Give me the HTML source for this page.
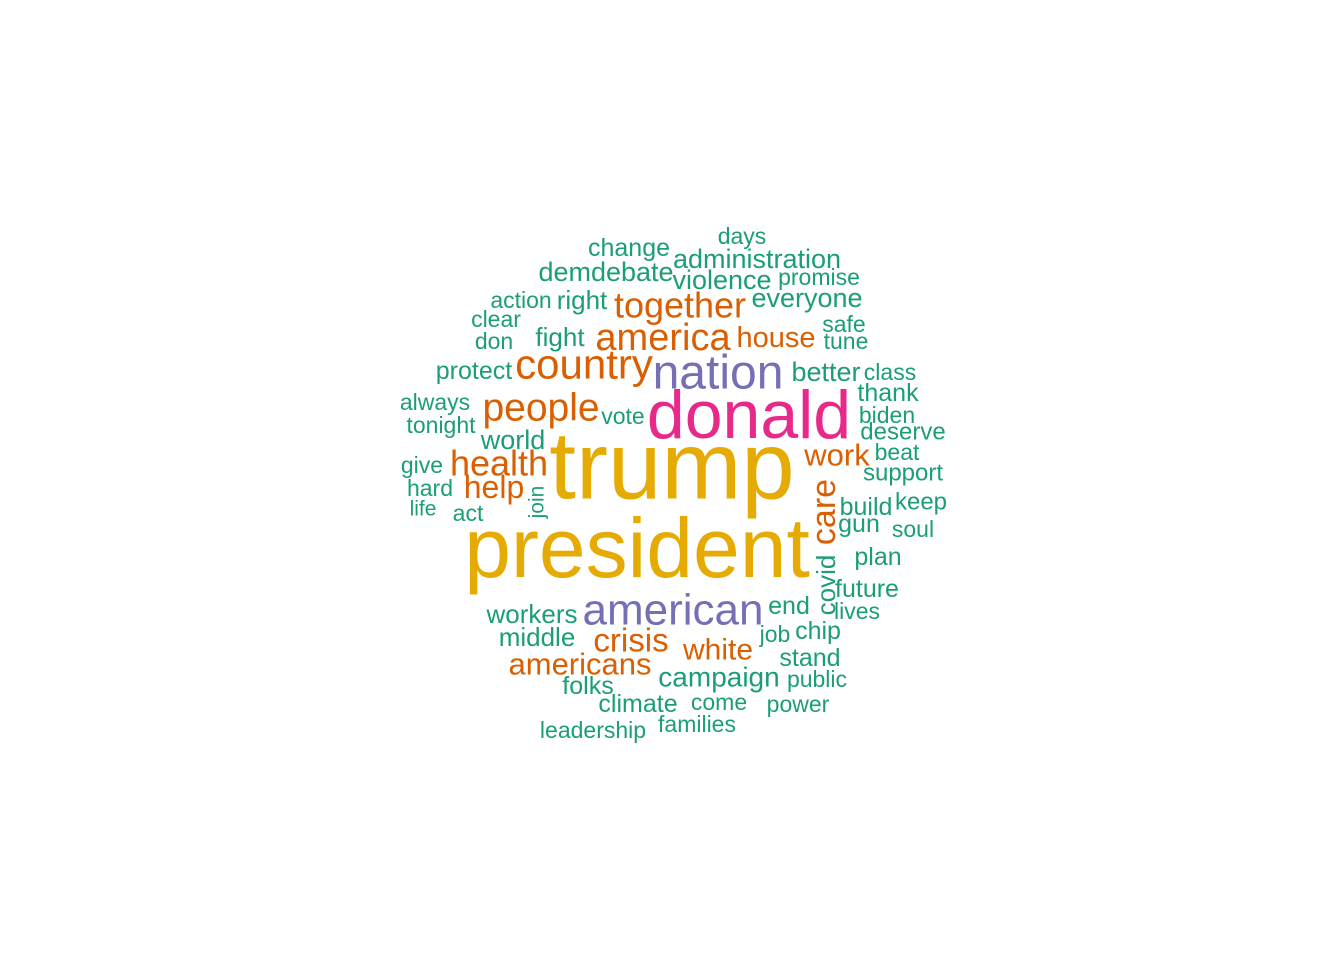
<!DOCTYPE html>
<html><head><meta charset="utf-8"><style>
html,body{margin:0;padding:0;background:#fff;}
svg{display:block;}
text{font-family:"Liberation Sans",Arial,sans-serif;}
</style></head><body>
<svg id="cloud" width="1344" height="960" viewBox="0 0 1344 960"></svg>
<script>
const words = ["president","trump","donald","nation","american","country","america","together","people","health","help","americans","crisis","white","house","work","care","covid","join",
"change","days","administration","demdebate","violence","promise","action","right","everyone","clear","fight","safe","tune","don","protect","better","class","thank","always","vote","biden","tonight","world","deserve","beat","give","support","hard","keep","build","life","act","gun","soul","plan","future","workers","end","lives","middle","job","chip","stand","campaign","public","folks","climate","come","power","families","leadership"];
const counts = [84,96,68,48,44,42,38,36,39,36,32,31,33,30,29,31,34,26,21,
25,23,27,27,27,23,23,26,27,23,26,23,23,23,25,27,23,25,23,23,23,23,27,24,23,23,24,23,24,25,21,23,25,23,25,25,26,25,23,26,23,25,25,28,23,25,25,23,23,23,23];
const colorGroup = ["y","y","p","v","v","o","o","o","o","o","o","o","o","o","o","o","o","g","g",
"g","g","g","g","g","g","g","g","g","g","g","g","g","g","g","g","g","g","g","g","g","g","g","g","g","g","g","g","g","g","g","g","g","g","g","g","g","g","g","g","g","g","g","g","g","g","g","g","g","g","g"];
const layoutX = [637,672,749,718,673,584,663,680,541,499,494,580,631,718,776,837,824,826,537,
629,742,757,606,722,819,521,582,807,496,560,844,846,494,474,826,890,888,435,623,887,441,513,903,897,422,903,430,921,866,423,468,859,913,878,867,532,789,857,537,775,818,810,719,817,588,638,719,798,697,593];
const layoutY = [548,466,415,373,610,364,338,305,408,463,487,664,640,650,338,455,512,585,502,
248,236,259,272,280,277,300,300,298,319,337,324,341,341,371,372,372,393,402,416,415,425,440,432,452,465,473,488,502,507,509,513,524,529,557,589,614,606,611,637,634,631,658,677,679,686,704,702,704,724,730];
const rotated = ["care","covid","join"];
const palette = {y:"#e6ab02",p:"#e7298a",v:"#7570b3",o:"#d95f02",g:"#1b9e77"};
const sizeScale = c => c * 1.0;
const svg = document.getElementById('cloud');
const NS = "http://www.w3.org/2000/svg";
words.forEach((w,i)=>{
  const t = document.createElementNS(NS,'text');
  
  
  t.setAttribute('x', layoutX[i]);
  t.setAttribute('y', layoutY[i]);
  t.setAttribute('text-anchor','middle');
  t.setAttribute('dominant-baseline','central');
  t.setAttribute('font-size', sizeScale(counts[i]));
  t.setAttribute('fill', palette[colorGroup[i]]);
  if (rotated.includes(w)) t.setAttribute('transform','rotate(-90 '+layoutX[i]+' '+layoutY[i]+')');
  t.textContent = w;
  svg.appendChild(t);
});
</script>
</body></html>
